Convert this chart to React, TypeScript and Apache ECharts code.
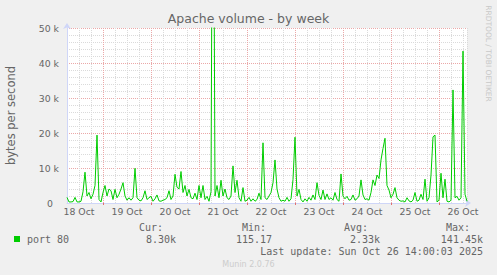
import { useEffect, useRef } from 'react';
import * as echarts from 'echarts';

const chartTitle = 'Apache volume - by week';
const yAxisName = 'bytes per second';
const seriesName = 'port 80';
const watermark = 'RRDTOOL / TOBI OETIKER';
const versionText = 'Munin 2.0.76';
const lastUpdate = 'Last update: Sun Oct 26 14:00:03 2025';

// x axis: hours since 18 Oct 06:00 (one value per hour)
const dayLabels = ['18 Oct', '19 Oct', '20 Oct', '21 Oct', '22 Oct', '23 Oct', '24 Oct', '25 Oct', '26 Oct'];
const labelHours = [6, 30, 54, 78, 102, 126, 150, 174, 198];
const midnightHours = [18, 42, 66, 90, 114, 138, 162, 186];
const yTickLabels = ['0', '10 k', '20 k', '30 k', '40 k', '50 k'];

const statLabels = ['Cur:', 'Min:', 'Avg:', 'Max:'];
const statValues = ['8.30k', '115.17', '2.33k', '141.45k'];

// bytes per second, hourly
const volume = [
  1600, 300, 300, 400, 1600, 300, 300, 500, 3200, 8800,
  2000, 3000, 1200, 2500, 5000, 19400, 1000, 300, 3000, 5000,
  2000, 4000, 3500, 1000, 3900, 1500, 2500, 4000, 5800, 2000,
  800, 1500, 800, 1500, 9900, 1500, 800, 600, 1500, 3500,
  1000, 1500, 1900, 500, 1200, 2300, 600, 500, 800, 1000,
  1500, 3500, 1000, 2000, 8200, 4500, 4000, 9000, 3000, 5000,
  2000, 3900, 1500, 1200, 2800, 1000, 5000, 1500, 5000, 1000,
  1900, 500, 3200, 141450, 2000, 5000, 1500, 6500, 2000, 4000,
  1500, 1000, 2000, 10600, 3000, 6500, 1500, 500, 4400, 500,
  800, 1600, 500, 1200, 500, 1000, 2800, 1000, 17200, 1500,
  1000, 2000, 3000, 5800, 12300, 4000, 1500, 500, 800, 500,
  1600, 500, 1200, 6700, 18800, 2000, 3900, 1000, 300, 1200,
  500, 1600, 800, 2300, 1000, 5800, 2200, 1000, 3700, 1000,
  2600, 1000, 1500, 800, 3000, 1000, 500, 8300, 2000, 1200,
  1900, 800, 1000, 2300, 800, 1200, 2000, 6600, 2300, 1000,
  1200, 800, 3000, 6600, 5000, 8000, 7000, 12300, 15600, 18500,
  5000, 3700, 1500, 2500, 4400, 1500, 800, 500, 600, 300,
  1500, 600, 300, 800, 3000, 500, 800, 2500, 1000, 6800,
  500, 1500, 8000, 18900, 19400, 300, 800, 8500, 1500, 6800,
  500, 300, 800, 32300, 1500, 1900, 800, 1500, 43400, 2500,
  500,
];

const FONT = 'DejaVu Sans';
const MONO = 'DejaVu Sans Mono';
const TXT = '#666666';
const MINOR = '#DADADA';
const MAJOR = '#EBA8A8';

export default function App() {
  const ref = useRef<HTMLDivElement>(null);
  useEffect(() => {
    const chart = echarts.init(ref.current!, null, { renderer: 'svg' });
    const statLabelRight = [163, 266, 368, 470];
    const statValueRight = [176, 272, 380, 483];
    const graphics: any[] = [
      {
        type: 'text', x: 11, y: 115.5, rotation: Math.PI / 2,
        style: { text: yAxisName, fontFamily: FONT, fontSize: 11.5, fill: TXT, textAlign: 'center', textVerticalAlign: 'middle' },
      },
      {
        type: 'text', x: 488, y: 53.5, rotation: -Math.PI / 2,
        style: { text: watermark, fontFamily: FONT, fontSize: 7.5, fill: '#C8C8C8', textAlign: 'center', textVerticalAlign: 'middle' },
      },
      {
        type: 'text', x: 248.5, y: 264,
        style: { text: versionText, fontFamily: FONT, fontSize: 8, fill: '#CCCCCC', textAlign: 'center', textVerticalAlign: 'middle' },
      },
      {
        type: 'text', x: 483, y: 251.5,
        style: { text: lastUpdate, fontFamily: MONO, fontSize: 10, fill: TXT, textAlign: 'right', textVerticalAlign: 'middle' },
      },
    ];
    statLabels.forEach((s, i) => {
      graphics.push({
        type: 'text', x: statLabelRight[i], y: 227,
        style: { text: s, fontFamily: MONO, fontSize: 10, fill: TXT, textAlign: 'right', textVerticalAlign: 'middle' },
      });
      graphics.push({
        type: 'text', x: statValueRight[i], y: 239.5,
        style: { text: statValues[i], fontFamily: MONO, fontSize: 10, fill: TXT, textAlign: 'right', textVerticalAlign: 'middle' },
      });
    });

    const option: any = {
      animation: false,
      backgroundColor: '#F0F0F0',
      title: {
        text: chartTitle, left: 'center', top: 12, padding: 0,
        textStyle: { fontFamily: FONT, fontSize: 12.5, fontWeight: 'normal', color: TXT },
      },
      legend: {
        left: 9, top: 229, itemWidth: 6, itemHeight: 6, icon: 'rect',
        data: [seriesName],
        textStyle: { fontFamily: MONO, fontSize: 10, color: TXT, padding: [0, 0, 0, 2] },
      },
      grid: {
        left: 67, top: 28, width: 400, height: 175, show: true,
        backgroundColor: '#FFFFFF', borderWidth: 0,
      },
      xAxis: [
        {
          type: 'value', min: 0, max: 200, interval: 6, position: 'bottom',
          axisLine: {
            show: true, lineStyle: { color: '#CFD6F8', width: 1 },
            symbol: ['none', 'arrow'], symbolSize: [6, 6], symbolOffset: [0, 4],
          },
          axisTick: { show: false },
          axisLabel: {
            customValues: labelHours,
            formatter: (v: number) => dayLabels[labelHours.indexOf(v)] ?? '',
            fontFamily: FONT, fontSize: 9.33, color: TXT, margin: 4,
          },
          splitLine: { show: true, lineStyle: { color: MINOR, type: 'dotted', width: 1 } },
        },
        {
          type: 'value', min: 0, max: 200, position: 'bottom',
          axisLine: { show: false },
          axisLabel: { show: false },
          axisTick: { show: true, customValues: midnightHours, length: 2, lineStyle: { color: '#E07070' } },
          splitLine: { show: true, lineStyle: { color: MAJOR, type: 'dotted', width: 1 } },
        },
      ],
      yAxis: [
        {
          type: 'value', min: 0, max: 50000, interval: 2000,
          axisLine: {
            show: true, lineStyle: { color: '#CFD6F8', width: 1 },
            symbol: ['none', 'arrow'], symbolSize: [6, 6], symbolOffset: [0, 5],
          },
          axisTick: { show: false },
          axisLabel: {
            formatter: (v: number) => {
              if (v % 10000 !== 0) return '';
              const t = yTickLabels[v / 10000];
              return v === 0 ? '{z|' + t + '}' : t;
            },
            fontFamily: FONT, fontSize: 9.33, color: TXT, margin: 8,
            rich: { z: { fontFamily: FONT, fontSize: 9.33, color: TXT, padding: [0, 6, 0, 0] } },
          },
          splitLine: { show: true, lineStyle: { color: MINOR, type: 'dotted', width: 1 } },
        },
        {
          type: 'value', min: 0, max: 50000, interval: 10000, position: 'left',
          axisLine: { show: false }, axisTick: { show: false }, axisLabel: { show: false },
          splitLine: { show: true, lineStyle: { color: MAJOR, type: 'dotted', width: 1 } },
        },
      ],
      series: [
        {
          name: seriesName, type: 'line', xAxisIndex: 0, yAxisIndex: 0,
          data: volume.map((v, i) => [i, v]),
          showSymbol: false, symbol: 'none', z: 3,
          color: '#00CC00',
          lineStyle: { color: '#00CC00', width: 1 },
          clip: true,
        },
      ],
      graphic: graphics,
    };
    chart.setOption(option);
    return () => chart.dispose();
  }, []);
  return <div ref={ref} style={{ position: 'fixed', left: 0, top: 0, width: 497, height: 275 }} />;
}
